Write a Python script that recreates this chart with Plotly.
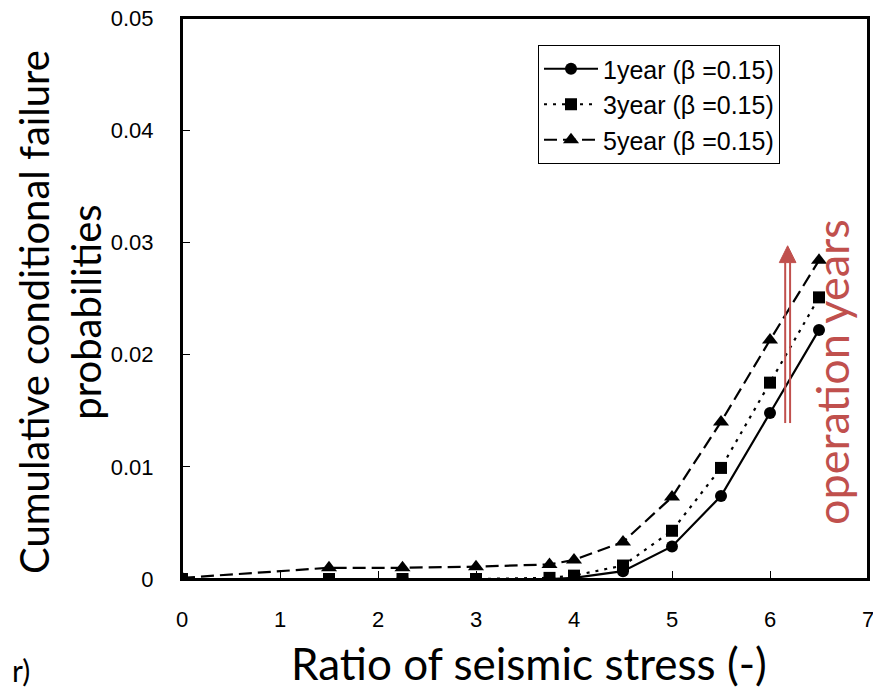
import plotly.graph_objects as go

stress_ratio = [0, 1.5, 2.25, 3.0, 3.75, 4.0, 4.5, 5.0, 5.5, 6.0, 6.5]
prob_1year = [0, 0, 0, 0, 0, 0.0001, 0.0007, 0.0029, 0.0074, 0.0148, 0.0222]
prob_3year = [0, 0, 0, 0, 0.0001, 0.0003, 0.0012, 0.0043, 0.0099, 0.0175, 0.0251]
prob_5year = [0.0001, 0.0010, 0.0010, 0.0011, 0.0013, 0.0017, 0.0033, 0.0073, 0.0140, 0.0213, 0.0284]

series_names = ["1year (β =0.15)", "3year (β =0.15)", "5year (β =0.15)"]
x_ticks = [0, 1, 2, 3, 4, 5, 6, 7]
y_ticks = [0, 0.01, 0.02, 0.03, 0.04, 0.05]
y_tick_text = ["0", "0.01", "0.02", "0.03", "0.04", "0.05"]

RED = "#C0504D"
OFF = 8  # page body margin
W, H = 881 - OFF, 690 - OFF
L, R, T, B = 182 - OFF, 13, 18 - OFF, 111
PW, PH = W - L - R, H - T - B

def px_x(px):
    return (px - OFF - L) / PW

def px_y(py):
    return (H - B - (py - OFF)) / PH

tick_font = dict(family="Liberation Sans, Arial, sans-serif", size=22, color="black")
title_family = "Lato, Carlito, Calibri, sans-serif"

fig = go.Figure()
styles = [("solid", "circle", 12), ("3px,6px", "square", 12), ("13px,6px", "triangle-up", 14)]
for name, ys, (dash, sym, msize) in zip(series_names, [prob_1year, prob_3year, prob_5year], styles):
    fig.add_trace(go.Scatter(
        x=stress_ratio, y=ys, name=name, mode="lines+markers",
        line=dict(color="black", width=2.2, dash=dash),
        marker=dict(symbol=sym, size=msize, color="black"),
    ))

# plot frame
fig.add_shape(type="rect", xref="paper", yref="paper", x0=0, x1=1, y0=0, y1=1,
              line=dict(color="black", width=2), layer="above")

# operation-years arrow (double shaft + head)
arrow_x = 6.18
arrow_y0, arrow_y1, head_tip = 0.0139, 0.0282, 0.0297
for dx in (-0.025, 0.025):
    fig.add_shape(type="line", x0=arrow_x + dx, x1=arrow_x + dx, y0=arrow_y0, y1=arrow_y1,
                  line=dict(color=RED, width=2), xref="x", yref="y")
fig.add_shape(type="path",
              path=f"M {arrow_x-0.085},{arrow_y1} L {arrow_x+0.085},{arrow_y1} L {arrow_x},{head_tip} Z",
              fillcolor=RED, line=dict(color=RED, width=1), xref="x", yref="y")

fig.add_annotation(x=px_x(832), y=px_y(372), xref="paper", yref="paper", text="operation years",
                   showarrow=False, textangle=-90, xanchor="center", yanchor="middle",
                   font=dict(family=title_family, size=45, color=RED))

# axis titles
fig.add_annotation(x=px_x(529), y=px_y(663), xref="paper", yref="paper",
                   text="Ratio of seismic stress (-)", showarrow=False,
                   xanchor="center", yanchor="middle",
                   font=dict(family=title_family, size=44, color="black"))
fig.add_annotation(x=px_x(60), y=px_y(312), xref="paper", yref="paper",
                   text="Cumulative conditional failure<br>probabilities", showarrow=False,
                   textangle=-90, xanchor="center", yanchor="middle",
                   font=dict(family=title_family, size=40, color="black"))

fig.add_annotation(x=px_x(10), y=px_y(670), xref="paper", yref="paper", text="r)", showarrow=False,
                   xanchor="left", yanchor="middle",
                   font=dict(family=title_family, size=30, color="black"))

fig.update_layout(
    width=W, height=H,
    margin=dict(l=L, r=R, t=T, b=B),
    paper_bgcolor="white", plot_bgcolor="white",
    showlegend=True,
    legend=dict(x=px_x(538), y=px_y(45), xanchor="left", yanchor="top",
                bgcolor="white", bordercolor="black", borderwidth=1,
                font=dict(family="Liberation Sans, Arial, sans-serif", size=25, color="black"),
                itemwidth=54, tracegroupgap=0),
    xaxis=dict(range=[0, 7], tickvals=x_ticks, ticks="inside", ticklen=8, tickcolor="black",
               showline=True, linecolor="black", linewidth=2, mirror=True, showgrid=False,
               zeroline=False, tickfont=tick_font, automargin=False, ticklabelstandoff=20,
               ticklabeloverflow="allow"),
    yaxis=dict(range=[0, 0.05], tickvals=y_ticks, ticktext=y_tick_text, ticks="inside", ticklen=8,
               tickcolor="black", showline=True, linecolor="black", linewidth=2, mirror=True,
               showgrid=False, zeroline=False, tickfont=tick_font, automargin=False,
               ticklabelstandoff=22, ticklabeloverflow="allow"),
)

fig.write_html("out.html")
